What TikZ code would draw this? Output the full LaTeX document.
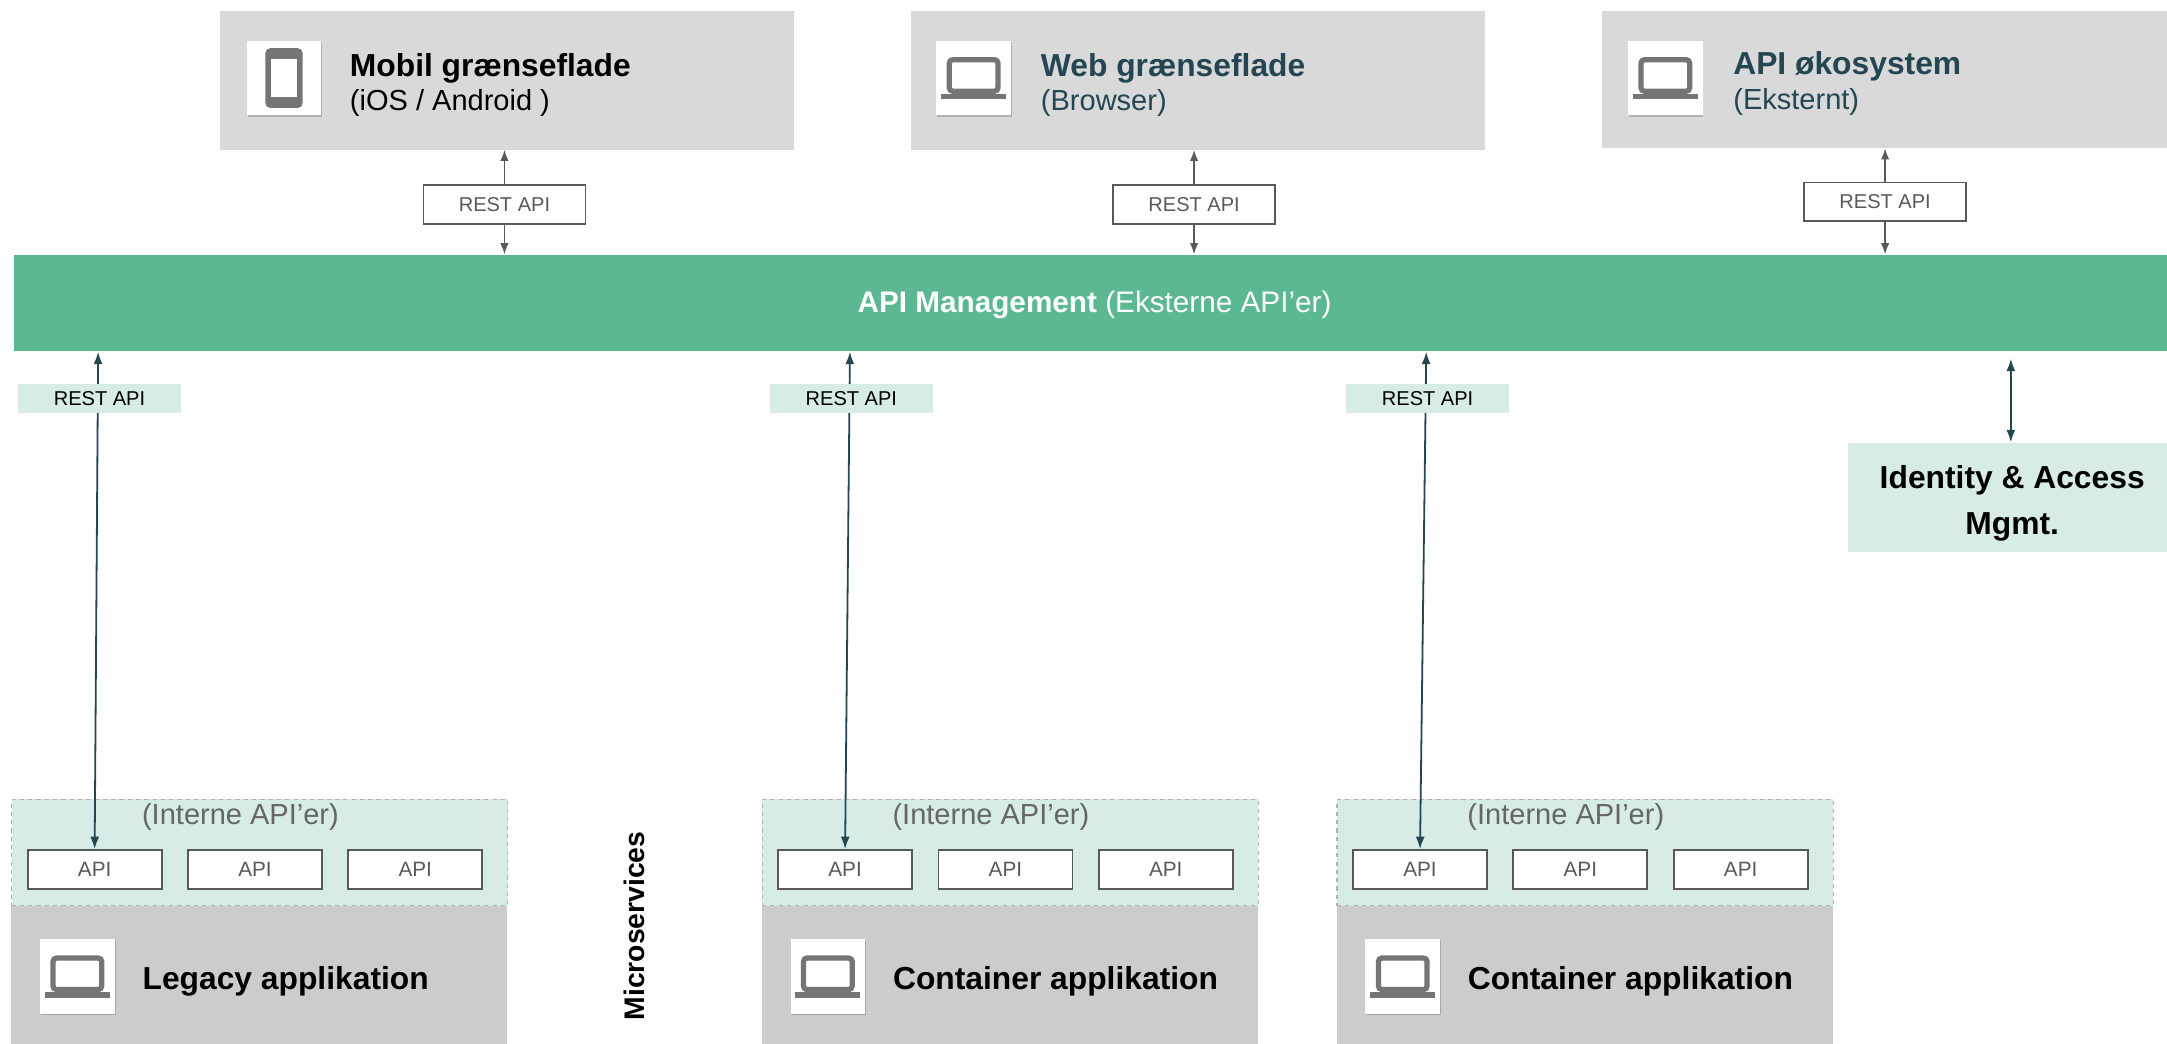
\documentclass[tikz,border=0pt]{standalone}
\usepackage{fontspec}
\setmainfont{Liberation Sans}
\usetikzlibrary{arrows.meta,shadows}
\definecolor{topgray}{HTML}{D9D9D9}
\definecolor{botgray}{HTML}{CCCCCC}
\definecolor{bandgreen}{HTML}{5BB891}
\definecolor{mint}{HTML}{D7ECE6}
\definecolor{darkteal}{HTML}{244552}
\definecolor{txtgray}{HTML}{595959}
\definecolor{lblgray}{HTML}{666666}
\definecolor{icongray}{HTML}{757575}
\newcommand\laptopicon[1]{%
  \begin{scope}[shift={(#1.center)}]
    \draw[icongray, line width=3.8pt, rounded corners=2.5pt] (-17.6,-13.3) rectangle (17.6,9.5);
    \fill[icongray] (-23.4,11.2) rectangle (23.4,15.4);
  \end{scope}}
\newcommand\phoneicon[1]{%
  \begin{scope}[shift={(#1.center)}]
    \fill[icongray, rounded corners=3.5pt] (-13.5,-21.6) rectangle (13.5,21.6);
    \fill[white] (-9.7,-14) rectangle (9.7,14);
  \end{scope}}
\tikzset{
  topbox/.style={fill=topgray, draw=none, anchor=north west, inner sep=0},
  iconbox/.style={fill=white, draw=none, minimum width=54pt, minimum height=54pt, inner sep=0,
    drop shadow={shadow xshift=0.6pt, shadow yshift=-1pt, fill=black, opacity=0.18}},
  restbox/.style={fill=white, draw=txtgray, line width=1.1pt, minimum width=117pt, minimum height=28pt,
    inner sep=0, text=txtgray, font=\fontsize{14.5}{17}\selectfont},
  restlbl/.style={fill=mint, draw=none, minimum width=118pt, minimum height=21pt, inner sep=0,
    text=black, font=\fontsize{14.5}{17}\selectfont},
  apibox/.style={fill=white, draw=txtgray, line width=1.3pt, minimum width=97pt, minimum height=28pt,
    inner sep=0, text=txtgray, font=\fontsize{15}{18}\selectfont},
  mintbox/.style={fill=mint, draw=black!30, dashed, line width=0.8pt, anchor=north west, inner sep=0,
    minimum width=359pt, minimum height=77pt},
  appbox/.style={fill=botgray, draw=none, anchor=north west, inner sep=0, minimum width=359pt, minimum height=105pt},
  title/.style={anchor=base west, inner sep=0, font=\bfseries\fontsize{23}{27}\selectfont},
  subtitle/.style={anchor=base west, inner sep=0, font=\fontsize{21}{25}\selectfont},
  toparr/.style={draw=txtgray, line width=1pt, -{Latex[length=8pt,width=6pt]}},
  botarr/.style={draw=darkteal, line width=1.3pt, {Latex[length=9pt,width=6.5pt]}-{Latex[length=9pt,width=6.5pt]}}
}
\begin{document}
\begin{tikzpicture}[x=1pt,y=-1pt]
\useasboundingbox (0,0) rectangle (1568,755.4);
\clip (0,0) rectangle (1568,755.4);

% ---------- top panels ----------
\node[topbox, minimum width=415pt, minimum height=100pt] (mob) at (159,8) {};
\node[topbox, minimum width=415pt, minimum height=100pt] (web) at (659,8) {};
\node[topbox, minimum width=420pt, minimum height=99pt] (eco) at (1159,8) {};

\node[iconbox] (imob) at (205.5,56.5) {};
\node[iconbox] (iweb) at (704.5,56.5) {};
\node[iconbox] (ieco) at (1205,56.5) {};
\phoneicon{imob}
\laptopicon{iweb}
\laptopicon{ieco}

\node[title] (tmob) at (253,55) {Mobil grænseflade};
\node[subtitle] (smob) at (253,80) {(iOS / Android )};
\node[title, text=darkteal] (tweb) at (753,55) {Web grænseflade};
\node[subtitle, text=darkteal] (sweb) at (753,80) {(Browser)};
\node[title, text=darkteal] (teco) at (1254,54) {API økosystem};
\node[subtitle, text=darkteal] (seco) at (1254,79) {(Eksternt)};

% ---------- API management band ----------
\node[fill=bandgreen, draw=none, anchor=north west, minimum width=1570pt, minimum height=70pt, inner sep=0] (band) at (10,184) {};
\node[text=white, inner sep=0, font=\fontsize{21.5}{26}\selectfont] (bandtxt) at (792,220.5) {\textbf{API Management} (Eksterne API’er)};

% ---------- top REST API connectors ----------
\node[restbox] (r1) at (365,148) {REST API};
\node[restbox] (r2) at (864,148) {REST API};
\node[restbox] (r3) at (1364,146) {REST API};
\foreach \r/\p in {r1/mob, r2/web, r3/eco}{
  \draw[toparr] (\r.north) -- (\r.north |- \p.south);
  \draw[toparr] (\r.south) -- (\r.south |- band.north);
}

% ---------- bottom application groups ----------
\foreach \gx/\gn/\gt in {8/1/Legacy applikation, 551/2/Container applikation, 967/3/Container applikation}{
  \node[mintbox] (m\gn) at (\gx,578) {};
  \node[appbox] (b\gn) at (\gx,655) {};
  \node[text=lblgray, inner sep=0, font=\fontsize{21}{25}\selectfont] (it\gn) at (\gx+166,591) {(Interne API’er)};
  \node[apibox] (a\gn1) at (\gx+60.5,629) {API};
  \node[apibox] (a\gn2) at (\gx+176.5,629) {API};
  \node[apibox] (a\gn3) at (\gx+292.5,629) {API};
  \node[iconbox] (ib\gn) at (\gx+48,706.5) {};
  \laptopicon{ib\gn}
  \node[title] (bt\gn) at (\gx+95,716) {\gt};
}

% ---------- bottom REST API connectors ----------
\coordinate (u1) at (71,254.5);
\coordinate (u2) at (615,254.5);
\coordinate (u3) at (1032,254.5);
\draw[botarr] (u1) -- (a11.north);
\draw[botarr] (u2) -- (a21.north);
\draw[botarr] (u3) -- (a31.north);
\node[restlbl] (l1) at (72,288.5) {REST API};
\node[restlbl] (l2) at (616,288.5) {REST API};
\node[restlbl] (l3) at (1033,288.5) {REST API};

% ---------- identity & access ----------
\node[fill=mint, draw=none, anchor=north west, minimum width=240pt, minimum height=79pt, inner sep=0] (idm) at (1337,320) {};
\node[align=center, inner sep=0, font=\bfseries\fontsize{23}{33}\selectfont] (idmtxt) at (1456,364) {Identity \& Access\\Mgmt.};
\coordinate (i1) at (1455,259.5);
\draw[botarr] (i1) -- (i1 |- idm.north);

% ---------- microservices label ----------
\node[rotate=90, inner sep=0, font=\bfseries\fontsize{20.5}{24}\selectfont] (ms) at (459,670) {Microservices};
\end{tikzpicture}
\end{document}
